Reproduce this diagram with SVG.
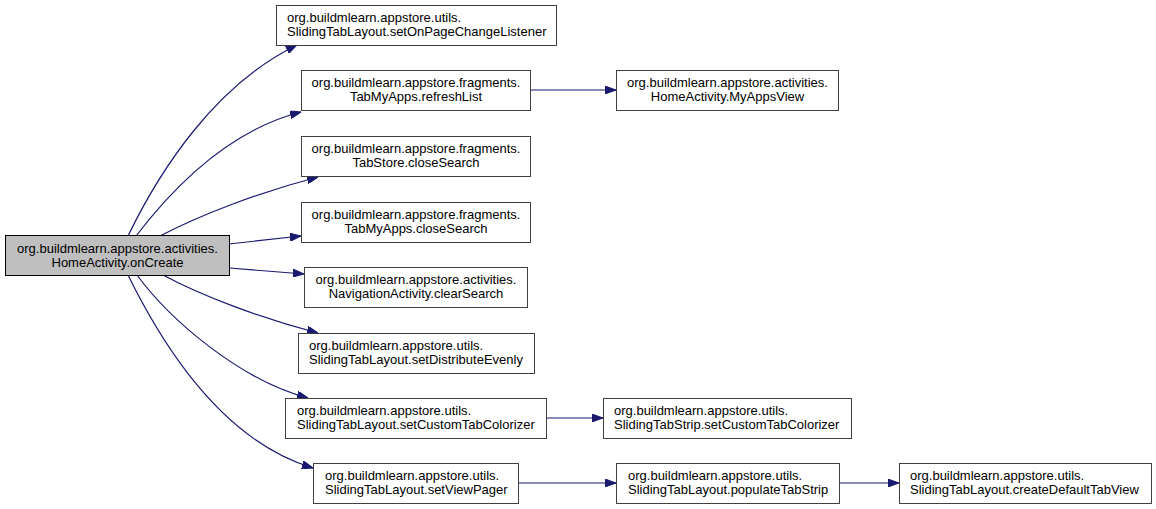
<svg xmlns="http://www.w3.org/2000/svg" width="1156" height="509" viewBox="0 0 1156 509">
<style>
.n rect{fill:#ffffff;stroke:#404040;stroke-width:1}
.n.root rect{fill:#bfbfbf;stroke:#000000}
.n text{font-family:"Liberation Sans",Arial,sans-serif;font-size:13px;fill:#000000}
.c{text-anchor:middle}
.e path{fill:none;stroke:#191970;stroke-width:1.2;marker-end:url(#ah)}
</style>
<defs>
<marker id="ah" viewBox="0 0 11 8" refX="11" refY="4" markerWidth="11" markerHeight="8" markerUnits="userSpaceOnUse" orient="auto">
<path d="M0,0 L11,4 L0,8 z" fill="#191970" stroke="#191970" stroke-width="1"/>
</marker>
</defs>
<rect width="1156" height="509" fill="#ffffff"/>
<g id="edges" class="e">
<path d="M128,236 C160,170 215,85 297,45"/>
<path d="M136,236 C175,185 230,130 301,112"/>
<path d="M160,236 C200,215 260,192 318,177"/>
<path d="M229,244 L301,236"/>
<path d="M229,268 L304,274"/>
<path d="M163,275 C200,295 260,318 318,333"/>
<path d="M137,275 C170,320 240,380 308,398"/>
<path d="M128,275 C160,340 220,440 313,468"/>
<path d="M530,90 L616,90"/>
<path d="M546,418 L603,418"/>
<path d="M518,483 L616,483"/>
<path d="M839,483 L899,483"/>
</g>
<g id="root" class="n root">
<rect x="5.5" y="235.5" width="224" height="40"/>
<text class="c" x="117.5" y="252.5">org.buildmlearn.appstore.activities.</text>
<text class="c" x="117.5" y="266.5">HomeActivity.onCreate</text>
</g>
<g id="n1" class="n">
<rect x="276.5" y="5.5" width="280" height="40"/>
<text x="287" y="22">org.buildmlearn.appstore.utils.</text>
<text x="287" y="36">SlidingTabLayout.setOnPageChangeListener</text>
</g>
<g id="n2" class="n">
<rect x="301.5" y="70.5" width="229" height="40"/>
<text class="c" x="416" y="87">org.buildmlearn.appstore.fragments.</text>
<text class="c" x="416" y="101">TabMyApps.refreshList</text>
</g>
<g id="n3" class="n">
<rect x="616.5" y="70.5" width="222" height="40"/>
<text class="c" x="727.5" y="87">org.buildmlearn.appstore.activities.</text>
<text class="c" x="727.5" y="101">HomeActivity.MyAppsView</text>
</g>
<g id="n4" class="n">
<rect x="301.5" y="136.5" width="229" height="40"/>
<text class="c" x="416" y="153">org.buildmlearn.appstore.fragments.</text>
<text class="c" x="416" y="167">TabStore.closeSearch</text>
</g>
<g id="n5" class="n">
<rect x="301.5" y="202.5" width="229" height="40"/>
<text class="c" x="416" y="219">org.buildmlearn.appstore.fragments.</text>
<text class="c" x="416" y="233">TabMyApps.closeSearch</text>
</g>
<g id="n6" class="n">
<rect x="304.5" y="267.5" width="223" height="40"/>
<text class="c" x="416" y="284">org.buildmlearn.appstore.activities.</text>
<text class="c" x="416" y="298">NavigationActivity.clearSearch</text>
</g>
<g id="n7" class="n">
<rect x="298.5" y="333.5" width="236" height="40"/>
<text x="309" y="350">org.buildmlearn.appstore.utils.</text>
<text x="309" y="364">SlidingTabLayout.setDistributeEvenly</text>
</g>
<g id="n8" class="n">
<rect x="285.5" y="398.5" width="261" height="40"/>
<text x="297" y="415">org.buildmlearn.appstore.utils.</text>
<text x="297" y="429">SlidingTabLayout.setCustomTabColorizer</text>
</g>
<g id="n9" class="n">
<rect x="603.5" y="398.5" width="248" height="40"/>
<text x="614" y="415">org.buildmlearn.appstore.utils.</text>
<text x="614" y="429">SlidingTabStrip.setCustomTabColorizer</text>
</g>
<g id="n10" class="n">
<rect x="313.5" y="463.5" width="205" height="40"/>
<text x="325" y="480">org.buildmlearn.appstore.utils.</text>
<text x="325" y="494">SlidingTabLayout.setViewPager</text>
</g>
<g id="n11" class="n">
<rect x="616.5" y="463.5" width="223" height="40"/>
<text x="628" y="480">org.buildmlearn.appstore.utils.</text>
<text x="628" y="494">SlidingTabLayout.populateTabStrip</text>
</g>
<g id="n12" class="n">
<rect x="899.5" y="463.5" width="252" height="40"/>
<text x="910" y="480">org.buildmlearn.appstore.utils.</text>
<text x="910" y="494">SlidingTabLayout.createDefaultTabView</text>
</g>
</svg>
